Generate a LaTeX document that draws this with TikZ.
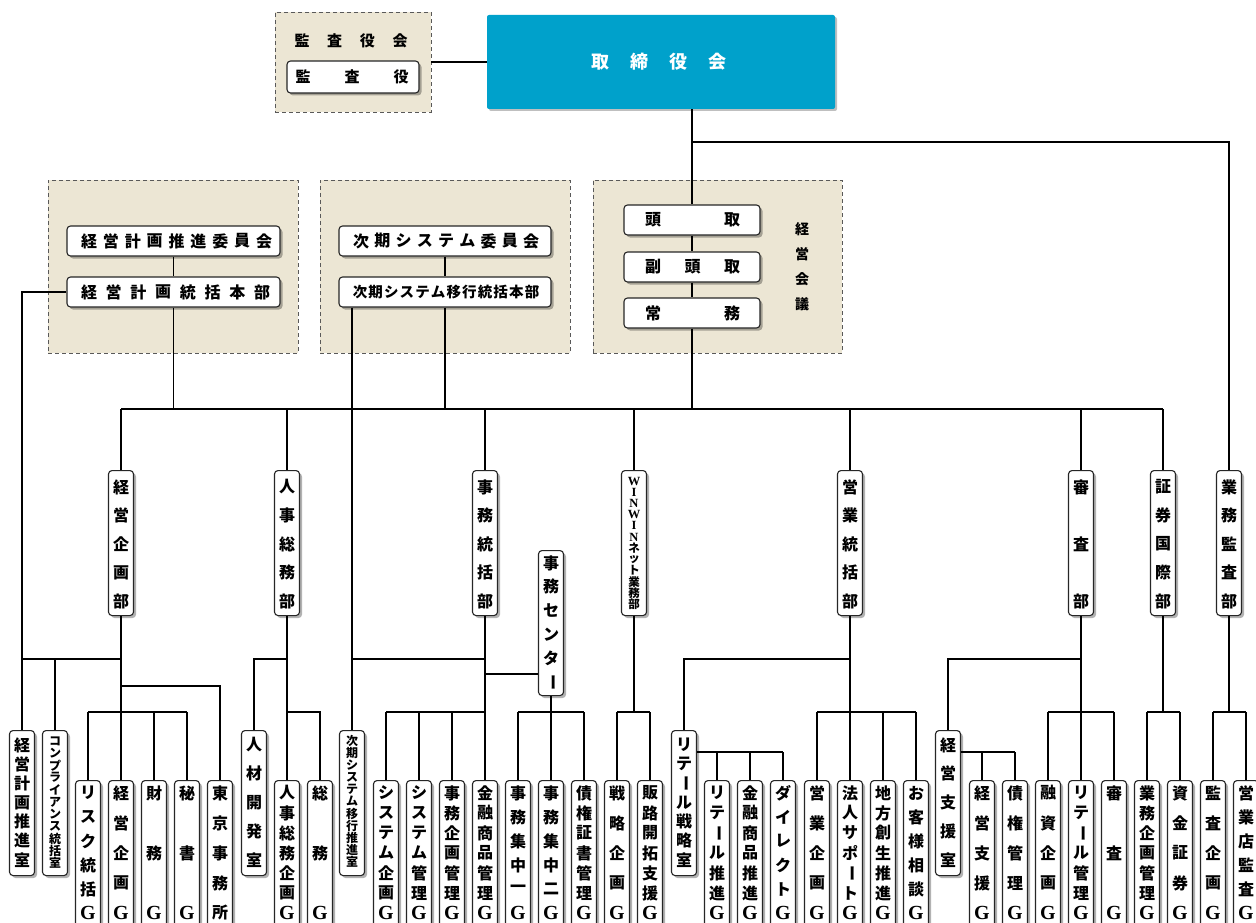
\documentclass[tikz,border=0pt]{standalone}
\usepackage{fontspec}
\setmainfont{Liberation Serif}
\newfontfamily\jp{Noto Sans CJK JP}
\usetikzlibrary{shadows}
\definecolor{beige}{HTML}{ECE6D4}
\definecolor{toriblue}{HTML}{00A1CB}
\newcommand\G{{\rmfamily\bfseries\fontsize{20}{20}\selectfont G}}
\newcommand\lt[1]{{\rmfamily\bfseries\fontsize{12.5}{12.5}\selectfont #1}}
\newcommand\vbar{\rotatebox[origin=c]{-90}{ー}}
\tikzset{
 ubox/.style={draw=black!85, line width=1.1pt, fill=white, rounded corners=3.5pt,
   drop shadow={shadow xshift=2.5pt,shadow yshift=-2.5pt,opacity=.3,fill=black},
   inner sep=0pt, minimum width=25pt},
 tbox/.style={fill=toriblue, rounded corners=2pt, inner sep=0pt,
   drop shadow={shadow xshift=2pt,shadow yshift=-2pt,opacity=.25,fill=black}},
 grp/.style={draw=black!65, dash pattern=on 4pt off 3pt, line width=0.9pt, fill=beige, inner sep=0pt},
 conn/.style={line width=1.1pt, draw=black},
 ch/.style={inner sep=0pt},
 chs/.style={},
}
% distributed characters: xs, ys, xe, ye, font size, chars, name
\newcommand\dist[7]{%
 \foreach \c [count=\n] in {#6} {\xdef\nch{\n}}%
 \foreach \c [count=\i] in {#6} {%
   \pgfmathsetmacro\dd{(\i-1)/(\nch-1)}%
   \node[ch, chs, font=\jp\bfseries\fontsize{#5}{#5}\selectfont] (#7-\i) at ({#1+\dd*(#3-#1)},{#2+\dd*(#4-#2)}) {\c};}}
% vertical box: name, x, top, bottom, ys, ye, fs, chars
\newcommand\vb[8]{%
 \node[ubox, minimum height={#4pt-#3pt}, anchor=north] (#1) at (#2,#3) {};
 \dist{#2}{#5}{#2}{#6}{#7}{#8}{#1c}}
% horizontal box: name, xc, yc, w, h, xs, xe, fs, chars
\newcommand\hb[9]{%
 \node[ubox, minimum width=#4pt, minimum height=#5pt] (#1) at (#2,#3) {};
 \dist{#6}{#3}{#7}{#3}{#8}{#9}{#1c}}
\newcommand\gb[3]{\vb{#1}{#2}{780}{930}{793}{913}{16}{#3}}
\newcommand\rb[3]{\vb{#1}{#2}{730}{875}{745}{860}{16}{#3}}
\newcommand\db[3]{\vb{#1}{#2}{470}{615}{487}{601}{16}{#3}}
\begin{document}
\begin{tikzpicture}[x=1pt,y=-1pt]
\useasboundingbox (0,0) rectangle (1256,923);
% ---- top
\node[grp, minimum width=156pt, minimum height=100pt] (kkai) at (353,62) {};
\dist{302}{41}{400}{41}{15}{監,査,役,会}{kkt}
\hb{kansa}{353}{77}{132}{32}{303}{401}{15}{監,査,役}
\node[tbox, minimum width=348pt, minimum height=94pt] (tori) at (661,62) {};
\begin{scope}[chs/.style={text=white}]
\dist{600}{62}{717}{62}{18}{取,締,役,会}{tt}
\end{scope}
% ---- groups
\node[grp, minimum width=250pt, minimum height=173pt] (g1) at (173,266.5) {};
\node[grp, minimum width=250pt, minimum height=173pt] (g2) at (445,266.5) {};
\node[grp, minimum width=249pt, minimum height=173pt] (g3) at (717.5,266.5) {};
\hb{kpc}{173.5}{241}{213}{30}{89}{264}{16}{経,営,計,画,推,進,委,員,会}
\hb{kph}{173.5}{292}{213}{30}{89}{262}{16}{経,営,計,画,統,括,本,部}
\hb{jc}{445}{241}{212}{30}{361}{531}{16}{次,期,シ,ス,テ,ム,委,員,会}
\hb{jh}{445}{292}{212}{30}{360}{532}{14.5}{次,期,シ,ス,テ,ム,移,行,統,括,本,部}
\hb{toudori}{692}{220}{136}{30}{653}{732}{16}{頭,取}
\hb{fuku}{692}{267}{136}{30}{653}{732}{16}{副,頭,取}
\hb{joumu}{692}{313}{136}{30}{653}{732}{16}{常,務}
\dist{802}{229}{802}{304}{14}{経,営,会,議}{kg}
% ---- departments
\db{kk}{121}{経,営,企,画,部}
\db{js}{287}{人,事,総,務,部}
\db{jt}{485}{事,務,統,括,部}
\vb{ww}{634}{470}{615}{481}{604}{11.5}{\lt{W},\lt{I},\lt{N},\lt{W},\lt{I},\lt{N},ネ,ッ,ト,業,務,部}
\db{et}{850}{営,業,統,括,部}
\db{sn}{1081}{審,査,部}
\db{sk}{1163}{証,券,国,際,部}
\db{gk}{1229}{業,務,監,査,部}
\vb{jcen}{551}{550}{695}{563}{682}{16}{事,務,セ,ン,タ,\vbar}
% ---- rooms
\rb{keisui}{22}{経,営,計,画,推,進,室}
\vb{comp}{55}{730}{875}{741}{863}{12}{コ,ン,プ,ラ,イ,ア,ン,ス,統,括,室}
\rb{jinzai}{254}{人,材,開,発,室}
\vb{jsui}{352}{730}{875}{741}{862}{12}{次,期,シ,ス,テ,ム,移,行,推,進,室}
\rb{rs}{684}{リ,テ,\vbar,ル,戦,略,室}
\rb{ks}{948}{経,営,支,援,室}
% ---- groups (G)
\gb{risk}{88}{リ,ス,ク,統,括,\G}
\gb{kkG}{121}{経,営,企,画,\G}
\gb{zaimu}{154}{財,務,\G}
\gb{hisho}{187}{秘,書,\G}
\gb{tokyo}{220}{東,京,事,務,所}
\gb{jskG}{287}{人,事,総,務,企,画,\G}
\gb{soumu}{320}{総,務,\G}
\gb{sysk}{386}{シ,ス,テ,ム,企,画,\G}
\gb{sysm}{419}{シ,ス,テ,ム,管,理,\G}
\gb{jimuk}{452}{事,務,企,画,管,理,\G}
\gb{kinyu}{485}{金,融,商,品,管,理,\G}
\gb{ji1}{518}{事,務,集,中,一,\G}
\gb{ji2}{551}{事,務,集,中,二,\G}
\gb{saiken}{584}{債,権,証,書,管,理,\G}
\gb{senr}{617}{戦,略,企,画,\G}
\gb{hanro}{650}{販,路,開,拓,支,援,\G}
\gb{rtsui}{717}{リ,テ,\vbar,ル,推,進,\G}
\gb{kinsui}{750}{金,融,商,品,推,進,\G}
\gb{direct}{783}{ダ,イ,レ,ク,ト,\G}
\gb{eik}{817}{営,業,企,画,\G}
\gb{houjin}{850}{法,人,サ,ポ,\vbar,ト,\G}
\gb{chihou}{883}{地,方,創,生,推,進,\G}
\gb{okyaku}{916}{お,客,様,相,談,\G}
\gb{kshG}{982}{経,営,支,援,\G}
\gb{saikk}{1015}{債,権,管,理,\G}
\gb{yushi}{1048}{融,資,企,画,\G}
\gb{rtkan}{1081}{リ,テ,\vbar,ル,管,理,\G}
\gb{shinsa}{1114}{審,査,\G}
\gb{gyokk}{1147}{業,務,企,画,管,理,\G}
\gb{shikin}{1180}{資,金,証,券,\G}
\gb{kskk}{1213}{監,査,企,画,\G}
\gb{eigyo}{1246}{営,業,店,監,査,\G}
% ---- connectors top
\coordinate (busL) at (121,409);
\coordinate (busR) at (1163,409);
\draw[conn] (kkai.east) -- (tori.west);
\draw[conn] (toudori.north |- tori.south) -- (toudori.north);
\draw[conn] (toudori.south) -- (fuku.north);
\draw[conn] (fuku.south) -- (joumu.north);
\draw[conn] (joumu.south) -- (joumu.south |- busL);
\draw[conn] (toudori.north |- 0,142) -| (gk.north);
\draw[conn] (kpc.south) -- (kph.north);
\draw[conn] (kph.south) -- (kph.south |- busL);
\draw[conn] (kph.west) -| (keisui.north);
\draw[conn] (jc.south) -- (jh.north);
\draw[conn] (jh.south) -- (jh.south |- busL);
\draw[conn] (jsui.north |- jh.south) -- (jsui.north);
\draw[conn] (busL) -- (busR);
\foreach \d in {kk,js,jt,ww,et,sn,sk} \draw[conn] (\d.north |- busL) -- (\d.north);
% 経営企画部
\draw[conn] (kk.south) -- (kkG.north);
\draw[conn] (keisui.north |- 0,659) -- (kk.south |- 0,659);
\draw[conn] (comp.north |- 0,659) -- (comp.north);
\draw[conn] (kk.south |- 0,686) -| (tokyo.north);
\draw[conn] (risk.north |- 0,712) -- (hisho.north |- 0,712);
\foreach \g in {risk,zaimu,hisho} \draw[conn] (\g.north |- 0,712) -- (\g.north);
% 人事総務部
\draw[conn] (js.south) -- (jskG.north);
\draw[conn] (js.south |- 0,659) -| (jinzai.north);
\draw[conn] (js.south |- 0,712) -| (soumu.north);
% 事務統括部
\draw[conn] (jt.south) -- (kinyu.north);
\draw[conn] (jsui.north |- 0,659) -- (jt.south |- 0,659);
\draw[conn] (jt.south |- 0,674) -- (jcen.west |- 0,674);
\draw[conn] (sysk.north |- 0,712) -- (kinyu.north |- 0,712);
\foreach \g in {sysk,sysm,jimuk} \draw[conn] (\g.north |- 0,712) -- (\g.north);
\draw[conn] (jcen.south) -- (ji2.north);
\draw[conn] (ji1.north |- 0,712) -- (saiken.north |- 0,712);
\foreach \g in {ji1,saiken} \draw[conn] (\g.north |- 0,712) -- (\g.north);
% WINWIN
\draw[conn] (ww.south) -- (ww.south |- 0,712);
\draw[conn] (senr.north |- 0,712) -- (hanro.north |- 0,712);
\foreach \g in {senr,hanro} \draw[conn] (\g.north |- 0,712) -- (\g.north);
% 営業統括部
\draw[conn] (et.south) -- (houjin.north);
\draw[conn] (et.south |- 0,659) -| (rs.north);
\draw[conn] (eik.north |- 0,712) -- (okyaku.north |- 0,712);
\foreach \g in {eik,chihou,okyaku} \draw[conn] (\g.north |- 0,712) -- (\g.north);
\draw[conn] (rs.east |- 0,752) -- (direct.north |- 0,752);
\foreach \g in {rtsui,kinsui,direct} \draw[conn] (\g.north |- 0,752) -- (\g.north);
% 審査部
\draw[conn] (sn.south) -- (rtkan.north);
\draw[conn] (sn.south |- 0,659) -| (ks.north);
\draw[conn] (yushi.north |- 0,712) -- (shinsa.north |- 0,712);
\foreach \g in {yushi,shinsa} \draw[conn] (\g.north |- 0,712) -- (\g.north);
\draw[conn] (ks.east |- 0,752) -- (saikk.north |- 0,752);
\foreach \g in {kshG,saikk} \draw[conn] (\g.north |- 0,752) -- (\g.north);
% 証券国際部
\draw[conn] (sk.south) -- (sk.south |- 0,712);
\draw[conn] (gyokk.north |- 0,712) -- (shikin.north |- 0,712);
\foreach \g in {gyokk,shikin} \draw[conn] (\g.north |- 0,712) -- (\g.north);
% 業務監査部
\draw[conn] (gk.south) -- (gk.south |- 0,712);
\draw[conn] (kskk.north |- 0,712) -- (eigyo.north |- 0,712);
\foreach \g in {kskk,eigyo} \draw[conn] (\g.north |- 0,712) -- (\g.north);
\end{tikzpicture}
\end{document}
